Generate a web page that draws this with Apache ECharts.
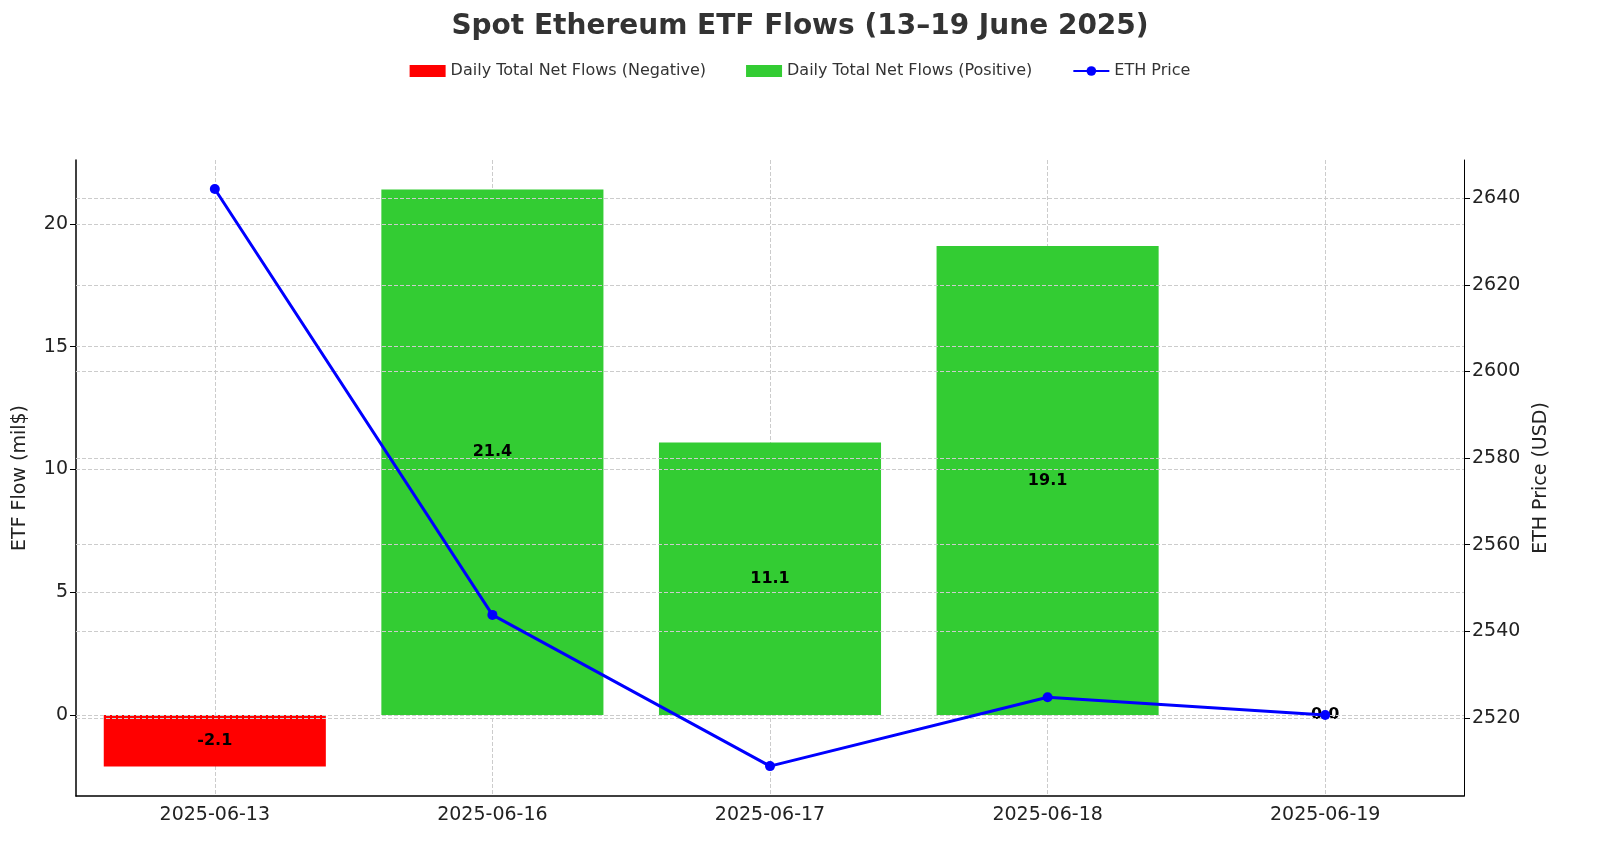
<!DOCTYPE html>
<html>
<head>
<meta charset="utf-8">
<script src="https://cdn.jsdelivr.net/npm/echarts@6/dist/echarts.min.js"></script>
<style>html,body{margin:0;padding:0;background:#fff}#chart{width:1600px;height:854px}</style>
</head>
<body>
<div id="chart"></div>
<script>
var dates = ["2025-06-13", "2025-06-16", "2025-06-17", "2025-06-18", "2025-06-19"];
var flows = [-2.1, 21.4, 11.1, 19.1, 0.0];
var prices = [2642.1, 2543.8, 2508.9, 2524.8, 2520.7];
var flowTicks = [0, 5, 10, 15, 20];
var priceTicks = [2520, 2540, 2560, 2580, 2600, 2620, 2640];

var negFlows = flows.map(function (v) { return v < 0 ? v : '-'; });
var posFlows = flows.map(function (v) { return v >= 0 ? v : '-'; });

var grid = { type: 'dashed', color: '#cccccc', width: 1 };
var font = 'DejaVu Sans';
var barLabel = { show: true, position: 'inside', color: '#000', fontWeight: 'bold', fontSize: 16, fontFamily: font,
  formatter: function (p) { return p.value.toFixed(1); } };

var myChart = echarts.init(document.getElementById('chart'));
var option = {
  animation: false,
  textStyle: { fontFamily: font },
  title: { text: 'Spot Ethereum ETF Flows (13\u201319 June 2025)', left: 'center', top: 8,
    textStyle: { fontSize: 28, fontWeight: 'bold', color: '#333', fontFamily: font } },
  legend: { top: 58, left: 'center', itemGap: 40, itemWidth: 36, itemHeight: 12,
    textStyle: { fontSize: 16, color: '#333', fontFamily: font },
    data: [
      { name: 'Daily Total Net Flows (Negative)', icon: 'rect' },
      { name: 'Daily Total Net Flows (Positive)', icon: 'rect' },
      { name: 'ETH Price' }
    ] },
  grid: { left: 76, right: 136, top: 160, bottom: 58 },
  xAxis: {
    type: 'category', data: dates,
    axisLine: { onZero: false, lineStyle: { color: '#000', width: 1.5 } },
    axisTick: { alignWithLabel: true, length: 6, lineStyle: { color: '#000' } },
    axisLabel: { fontSize: 19, color: '#222', margin: 10 },
    splitLine: { show: true, alignWithLabel: true, lineStyle: grid }
  },
  yAxis: [
    { type: 'value', min: -3.3, max: 22.6, name: 'ETF Flow (mil$)', nameLocation: 'middle', nameGap: 46,
      nameTextStyle: { fontSize: 19, color: '#222' },
      axisLine: { show: true, lineStyle: { color: '#000', width: 1.5 } },
      axisTick: { show: true, length: 6, customValues: flowTicks, lineStyle: { color: '#000' } },
      axisLabel: { fontSize: 19, color: '#222', customValues: flowTicks },
      splitLine: { show: false } },
    { type: 'value', min: 2502, max: 2648.8, name: 'ETH Price (USD)', nameLocation: 'middle', nameGap: 68,
      nameTextStyle: { fontSize: 19, color: '#222' },
      axisLine: { show: true, lineStyle: { color: '#000', width: 1 } },
      axisTick: { show: true, length: 6, customValues: priceTicks, lineStyle: { color: '#000' } },
      axisLabel: { fontSize: 19, color: '#222', customValues: priceTicks,
        formatter: function (v) { return String(v); } },
      splitLine: { show: false } }
  ],
  series: [
    { name: 'Daily Total Net Flows (Negative)', type: 'bar', stack: 'f', barWidth: '80%', data: negFlows,
      itemStyle: { color: '#ff0000' }, label: barLabel,
      markLine: { silent: true, symbol: 'none', label: { show: false }, lineStyle: grid,
        data: flowTicks.map(function (v) { return { yAxis: v }; }) } },
    { name: 'Daily Total Net Flows (Positive)', type: 'bar', stack: 'f', barWidth: '80%', data: posFlows,
      itemStyle: { color: '#33cc33' }, label: barLabel },
    { name: 'ETH Price', type: 'line', yAxisIndex: 1, data: prices, symbol: 'circle', symbolSize: 10,
      itemStyle: { color: '#0000ff' }, lineStyle: { color: '#0000ff', width: 3 }, z: 5,
      markLine: { silent: true, symbol: 'none', label: { show: false }, lineStyle: grid,
        data: priceTicks.map(function (v) { return { yAxis: v }; }) } }
  ]
};
myChart.setOption(option);
window.addEventListener('resize', function () { myChart.resize(); });
</script>
</body>
</html>
